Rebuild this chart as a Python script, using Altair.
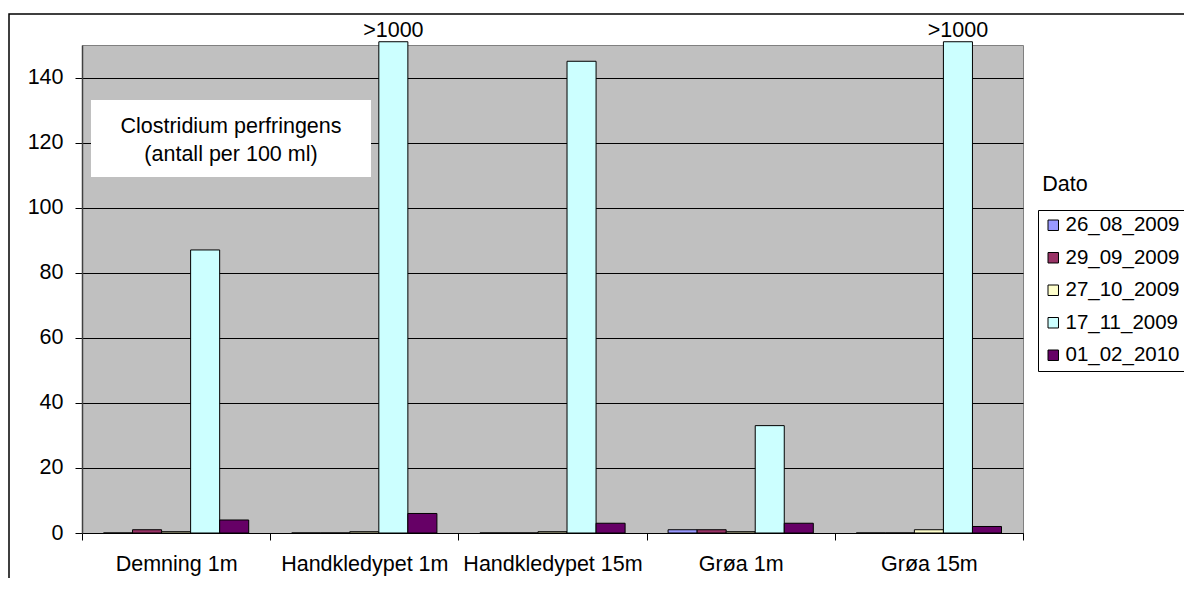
import altair as alt
import pandas as pd

sites = ["Demning 1m", "Handkledypet 1m", "Handkledypet 15m", "Grøa 1m", "Grøa 15m"]
dates = ["26_08_2009", "29_09_2009", "27_10_2009", "17_11_2009", "01_02_2010"]
colors = ["#9999FF", "#993366", "#FFFFCC", "#CCFFFF", "#660066"]

d26_08_2009 = [0, 0, 0, 1, 0]
d29_09_2009 = [1, 0, 0, 1, 0]
d27_10_2009 = [0.4, 0.4, 0.4, 0.4, 1]
d17_11_2009 = [87, 1000, 145, 33, 1000]
d01_02_2010 = [4, 6, 3, 3, 2]

series = [d26_08_2009, d29_09_2009, d27_10_2009, d17_11_2009, d01_02_2010]
rows = []
for d, vals in zip(dates, series):
    for s, v in zip(sites, vals):
        rows.append({"site": s, "date": d, "value": v,
                     "label": ">1000" if v > 150 else ""})
df = pd.DataFrame(rows)

FONT = "Liberation Sans"
FS = 21.5

xenc = alt.X("site:N", sort=sites, title=None,
             scale=alt.Scale(paddingInner=0, paddingOuter=0),
             axis=alt.Axis(labelAngle=0, labelFontSize=FS, labelColor="black",
                           domainColor="black", tickColor="black", tickSize=7,
                           tickBand="extent", labelPadding=13, grid=False))
yscale = alt.Scale(domain=[0, 150], nice=False)

bars = alt.Chart(df).transform_calculate(
    plotted="min(datum.value, 151)"
).mark_bar(stroke="black", strokeWidth=1).encode(
    x=xenc,
    xOffset=alt.XOffset("date:N", sort=dates,
                        scale=alt.Scale(domain=dates, paddingInner=0, paddingOuter=0.74)),
    y=alt.Y("plotted:Q", scale=yscale, title=None,
            axis=alt.Axis(values=[0, 20, 40, 60, 80, 100, 120, 140],
                          labelFontSize=FS, labelColor="black", grid=True,
                          gridColor="black", gridWidth=1, tickSize=7,
                          tickColor="black", domainColor="#404040",
                          domainWidth=1.5, labelPadding=12)),
    color=alt.Color("date:N", sort=dates,
                    scale=alt.Scale(domain=dates, range=colors),
                    legend=alt.Legend(title=None, orient="none", legendX=956,
                                      legendY=165, strokeColor="black",
                                      fillColor="white", padding=5,
                                      symbolType="square", symbolSize=110,
                                      symbolStrokeColor="black",
                                      symbolStrokeWidth=1, labelFontSize=20.5,
                                      labelColor="black", rowPadding=11.5,
                                      labelOffset=2, labelLimit=300)),
)

labels = alt.Chart(df).transform_filter("datum.value > 150").transform_calculate(
    plotted="min(datum.value, 151)"
).mark_text(fontSize=FS, baseline="alphabetic", dy=-5, color="black").encode(
    x=alt.X("site:N", sort=sites),
    xOffset=alt.XOffset("date:N", sort=dates),
    y=alt.Y("plotted:Q", scale=yscale),
    text="label:N",
)

one = pd.DataFrame({"k": [0]})
note_box = alt.Chart(one).mark_rect(fill="white").encode(
    x=alt.value(9), x2=alt.value(289), y=alt.value(55), y2=alt.value(132))
note1 = alt.Chart(one).mark_text(fontSize=FS, baseline="middle", align="center",
                                 color="black").encode(
    x=alt.value(149), y=alt.value(82), text=alt.value("Clostridium perfringens"))
note2 = alt.Chart(one).mark_text(fontSize=FS, baseline="middle", align="center",
                                 color="black").encode(
    x=alt.value(149), y=alt.value(110), text=alt.value("(antall per 100 ml)"))
dato = alt.Chart(one).mark_text(fontSize=FS, baseline="middle", align="center",
                                color="black").encode(
    x=alt.value(983), y=alt.value(140), text=alt.value("Dato"))
frame = alt.Chart(one).mark_rect(fill="transparent", stroke="black",
                                 strokeWidth=1.5).encode(
    x=alt.value(-73), x2=alt.value(3000), y=alt.value(-31), y2=alt.value(3000))

chart = alt.layer(bars, labels, note_box, note1, note2, dato, frame).resolve_scale(
    x="shared"
).properties(
    width=941, height=488,
    padding={"left": 74, "top": 37, "right": 161, "bottom": 45},
    autosize=alt.AutoSizeParams(type="none"),
).configure(font=FONT).configure_view(
    fill="#C0C0C0", stroke="#808080", strokeWidth=1
)

chart.save("out.html", embed_options={"renderer": "svg", "actions": False})
